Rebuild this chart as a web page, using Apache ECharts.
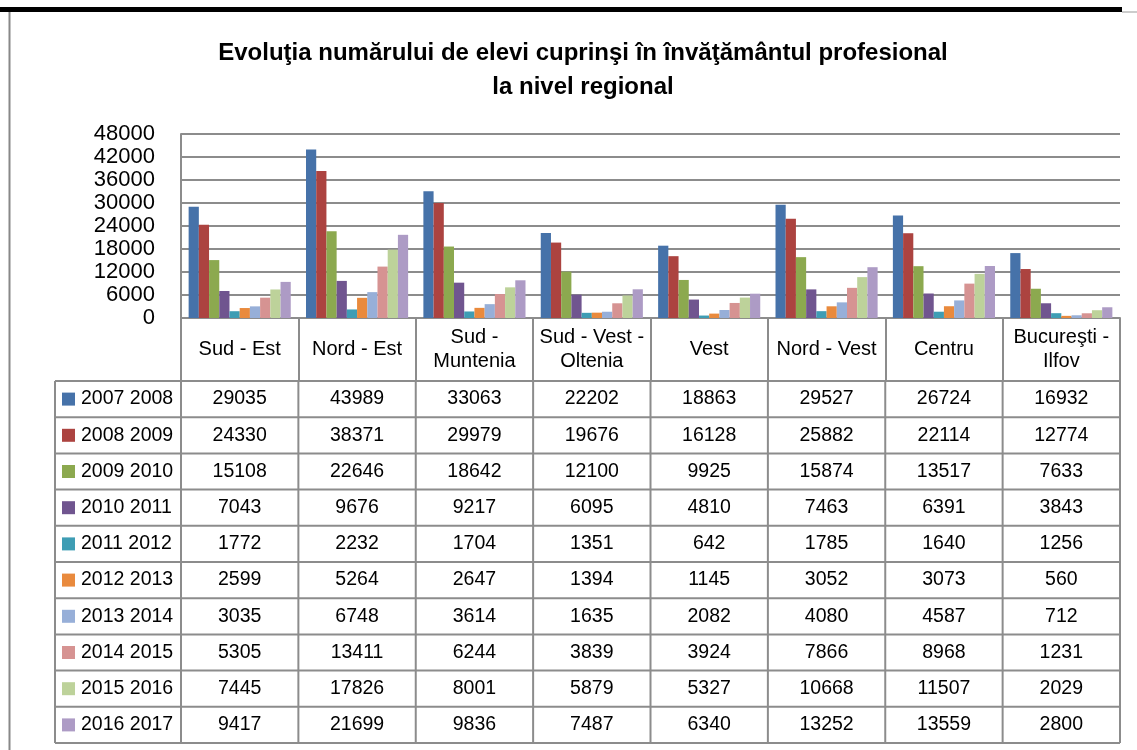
<!DOCTYPE html>
<html>
<head>
<meta charset="utf-8">
<script src="https://cdn.jsdelivr.net/npm/echarts@6/dist/echarts.min.js"></script>
<style>
  html, body { margin: 0; padding: 0; background: #fff; }
  #main { width: 1137px; height: 750px; }
</style>
</head>
<body>
<div id="main"></div>
<script>
// regiuni
const categories = ['Sud - Est', 'Nord - Est', 'Sud -\nMuntenia', 'Sud - Vest -\nOltenia', 'Vest', 'Nord - Vest', 'Centru', 'Bucureşti -\nIlfov'];
const years = ['2007 2008', '2008 2009', '2009 2010', '2010 2011', '2011 2012', '2012 2013', '2013 2014', '2014 2015', '2015 2016', '2016 2017'];

const y0708 = [29035, 43989, 33063, 22202, 18863, 29527, 26724, 16932];
const y0809 = [24330, 38371, 29979, 19676, 16128, 25882, 22114, 12774];
const y0910 = [15108, 22646, 18642, 12100, 9925, 15874, 13517, 7633];
const y1011 = [7043, 9676, 9217, 6095, 4810, 7463, 6391, 3843];
const y1112 = [1772, 2232, 1704, 1351, 642, 1785, 1640, 1256];
const y1213 = [2599, 5264, 2647, 1394, 1145, 3052, 3073, 560];
const y1314 = [3035, 6748, 3614, 1635, 2082, 4080, 4587, 712];
const y1415 = [5305, 13411, 6244, 3839, 3924, 7866, 8968, 1231];
const y1516 = [7445, 17826, 8001, 5879, 5327, 10668, 11507, 2029];
const y1617 = [9417, 21699, 9836, 7487, 6340, 13252, 13559, 2800];
const allValues = [y0708, y0809, y0910, y1011, y1112, y1213, y1314, y1415, y1516, y1617];

const yMax = 48000;
const yStep = 6000;

const colors = ['#4672A9', '#AC4340', '#8CA94F', '#70558F', '#3E9DB4', '#E98A3D', '#97AFD8', '#D69392', '#BDD29A', '#AD9BC5'];

const FONT = "'Liberation Sans', Arial, sans-serif";
const LINE = '#8c8c8c';

const chart = echarts.init(document.getElementById('main'));

const series = years.map((name, i) => ({
  name: name,
  type: 'bar',
  data: allValues[i],
  barGap: '0%',
  barCategoryGap: '13%',
  itemStyle: { color: colors[i] },
  animation: false
}));

chart.setOption({
  backgroundColor: '#fff',
  color: colors,
  animation: false,
  title: {
    text: 'Evoluţia numărului de elevi cuprinşi în învăţământul profesional\nla nivel regional',
    left: 578,
    top: 31,
    textAlign: 'center',
    textStyle: {
      fontFamily: FONT,
      fontSize: 24,
      fontWeight: 'bold',
      color: '#000',
      lineHeight: 34
    }
  },
  grid: { left: 181, right: 17, top: 134, bottom: 432, containLabel: false },
  xAxis: {
    type: 'category',
    data: categories,
    axisLine: { lineStyle: { color: LINE, width: 2 } },
    axisTick: { show: true, length: 63, interval: 0, lineStyle: { color: LINE, width: 2 } },
    axisLabel: {
      interval: 0,
      margin: 31,
      verticalAlign: 'middle',
      fontFamily: FONT,
      fontSize: 20,
      lineHeight: 24,
      color: '#000'
    },
    splitLine: { show: false }
  },
  yAxis: {
    type: 'value',
    min: 0,
    max: yMax,
    interval: yStep,
    axisLine: { show: true, lineStyle: { color: LINE, width: 2 } },
    axisTick: { show: false },
    axisLabel: { margin: 26, fontFamily: FONT, fontSize: 22, color: '#000', formatter: v => String(v) },
    splitLine: { lineStyle: { color: LINE, width: 2 } }
  },
  series: series
});

// tabelul de date de sub grafic
const centers = categories.map((c, i) => chart.convertToPixel({ xAxisIndex: 0 }, i));
const half = (centers[1] - centers[0]) / 2;
const tableLeft = 55;
const tableRight = centers[centers.length - 1] + half;
const rowTop = 381;
const rowH = 36.2;
const tableBottom = rowTop + rowH * years.length;

const g = [];
// cadru
g.push({ type: 'rect', shape: { x: 0, y: 7, width: 1122, height: 5 }, style: { fill: '#000' } });
g.push({ type: 'line', shape: { x1: 1122, y1: 12, x2: 1137, y2: 12 }, style: { stroke: '#999', lineWidth: 1 } });
g.push({ type: 'line', shape: { x1: 9.5, y1: 12, x2: 9.5, y2: 750 }, style: { stroke: '#888', lineWidth: 2 } });

for (let r = 0; r <= years.length; r++) {
  const y = rowTop + r * rowH;
  g.push({ type: 'line', shape: { x1: tableLeft, y1: y, x2: tableRight, y2: y }, style: { stroke: LINE, lineWidth: 2 } });
}
const vx = [tableLeft].concat(centers.map(c => c - half)).concat([tableRight]);
vx.forEach(x => {
  g.push({ type: 'line', shape: { x1: x, y1: rowTop, x2: x, y2: tableBottom }, style: { stroke: LINE, lineWidth: 2 } });
});

years.forEach((name, r) => {
  const cy = rowTop + r * rowH + rowH / 2;
  g.push({ type: 'rect', shape: { x: 62, y: cy - 6.5, width: 13, height: 13 }, style: { fill: colors[r] } });
  g.push({
    type: 'text', x: 81, y: cy,
    style: { text: name, fontFamily: FONT, fontSize: 19.5, fill: '#000', align: 'left', verticalAlign: 'middle', textAlign: 'left', textVerticalAlign: 'middle' }
  });
  allValues[r].forEach((v, c) => {
    g.push({
      type: 'text', x: centers[c], y: cy,
      style: { text: String(v), fontFamily: FONT, fontSize: 19.5, fill: '#000', align: 'center', verticalAlign: 'middle', textAlign: 'center', textVerticalAlign: 'middle' }
    });
  });
});

chart.setOption({ graphic: { elements: g } });
</script>
</body>
</html>
